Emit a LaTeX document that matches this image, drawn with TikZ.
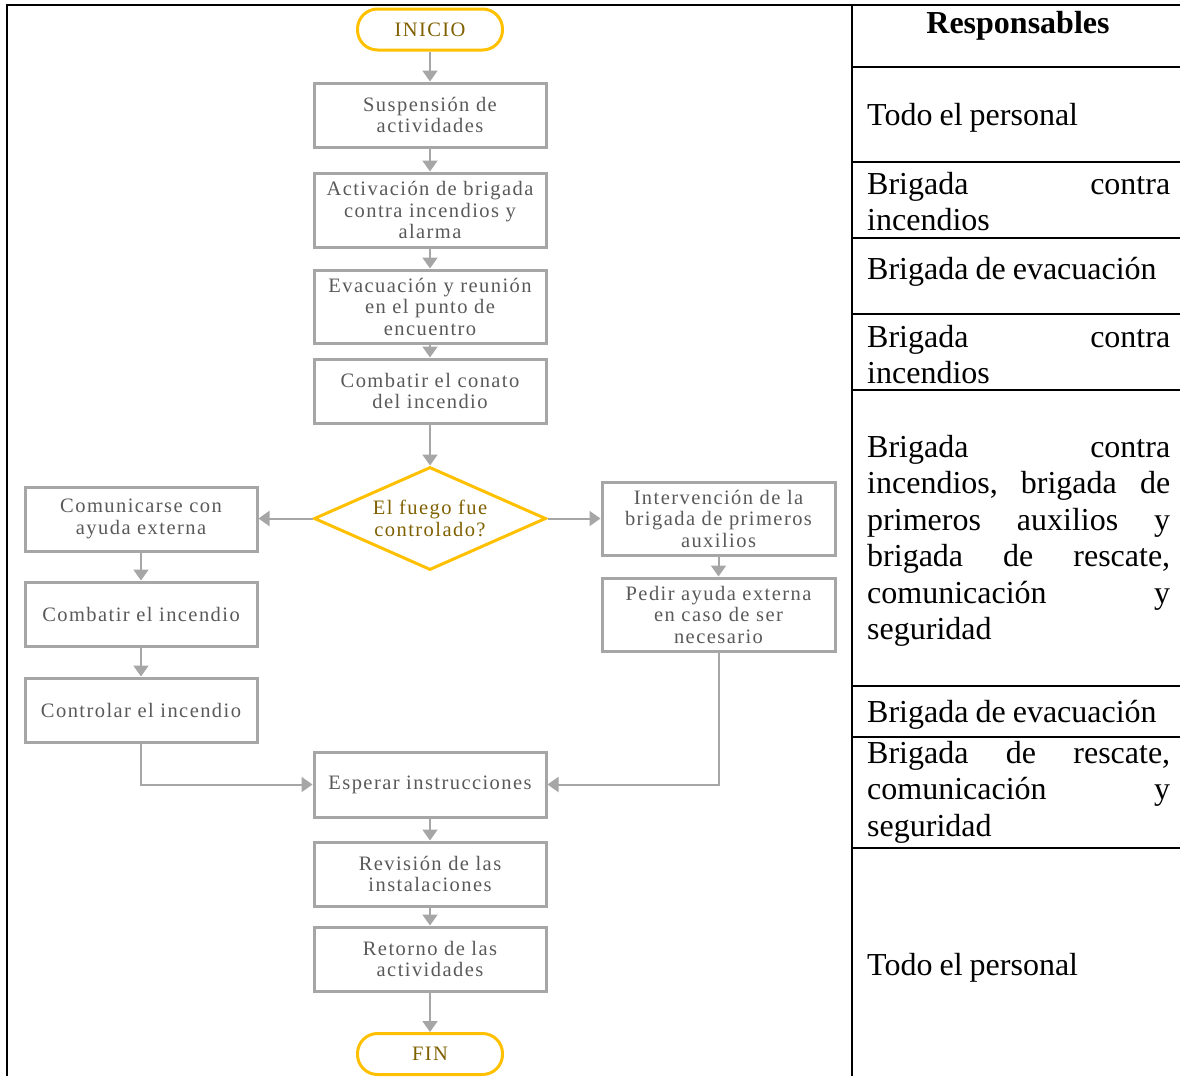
\documentclass[tikz,border=0pt]{standalone}
\usepackage{fontspec}
\setmainfont{Liberation Serif}
\newfontfamily\flowfont[LetterSpace=7]{Liberation Serif}
\usetikzlibrary{arrows.meta,shapes.geometric}
\definecolor{gold}{HTML}{FFC000}
\definecolor{goldtext}{HTML}{7F6000}
\definecolor{boxgray}{HTML}{A6A6A6}
\definecolor{textgray}{HTML}{595959}
\newcommand\flowtext{\flowfont\fontsize{20.5}{21.5}\selectfont}
\newcommand\respfont{\fontsize{32}{36.5}\selectfont}
\newcommand\tight{\spaceskip=0.22em plus 0.3em minus 0.05em\relax}
\newcommand\jline[1]{\makebox[303pt][l]{#1}}
\tikzset{
  procbox/.style={draw=boxgray, line width=3pt, minimum width=232pt, inner sep=0pt, align=center, font=\flowtext, text=textgray},
  termbox/.style={draw=gold, line width=3pt, rounded corners=20pt, minimum width=145pt, minimum height=41pt, inner sep=0pt, font=\flowtext, text=goldtext},
  decbox/.style={diamond, draw=gold, line width=3pt, minimum width=232pt, minimum height=103pt, inner sep=0pt, aspect=2.25, align=center, font=\flowtext, text=goldtext},
  arr/.style={draw=boxgray, line width=2pt, -{Triangle[width=15pt,length=11pt]}},
  tbl/.style={draw=black, line width=2.5pt},
  rowline/.style={draw=black, line width=2pt},
  resp/.style={anchor=base west, inner sep=0pt, text width=303pt, font=\respfont, text=black}
}
\begin{document}
\begin{tikzpicture}[x=1pt,y=-1pt]
\useasboundingbox (0,0) rectangle (1180,1076);
% table frame
\draw[tbl] (5.75,5) -- (1180,5);
\draw[tbl] (7,3.75) -- (7,1076);
\draw[tbl] (852,3.75) -- (852,1076);
\foreach \yy in {67,162,238,314,390,686,737,848}
  \draw[rowline] (852,\yy) -- (1180,\yy);

% responsables column
\node[anchor=base, inner sep=0pt, font=\respfont\bfseries] (hdr) at (1018,33) {Responsables};
\node[resp] (r1) at (867,125) {\tight Todo el personal};
\node[resp] (r2) at (867,194) {\jline{Brigada\hfill contra}\\incendios};
\node[resp] (r3) at (867,279) {\tight Brigada de evacuación};
\node[resp] (r4) at (867,347) {\jline{Brigada\hfill contra}\\incendios};
\node[resp] (r5) at (867,457) {\jline{Brigada\hfill contra}\\\jline{incendios,\hfill brigada\hfill de}\\\jline{primeros\hfill auxilios\hfill y}\\\jline{brigada\hfill de\hfill rescate,}\\\jline{comunicación\hfill y}\\seguridad};
\node[resp] (r6) at (867,722) {\tight Brigada de evacuación};
\node[resp] (r7) at (867,763) {\jline{Brigada\hfill de\hfill rescate,}\\\jline{comunicación\hfill y}\\seguridad};
\node[resp] (r8) at (867,975) {\tight Todo el personal};

% flowchart nodes
\node[termbox] (ini) at (430,29.5) {INICIO};
\node[procbox, minimum height=64pt] (s1) at (430,115) {Suspensión de\\actividades};
\node[procbox, minimum height=74pt] (s2) at (430,210) {Activación de brigada\\contra incendios y\\alarma};
\node[procbox, minimum height=73pt] (s3) at (430,306.5) {Evacuación y reunión\\en el punto de\\encuentro};
\node[procbox, minimum height=64pt] (s4) at (430,391) {Combatir el conato\\del incendio};
\node[decbox] (dec) at (430,518.5) {El fuego fue\\controlado?};
\node[procbox, minimum height=64pt] (com) at (141,519) {Comunicarse con\\ayuda externa};
\node[procbox, minimum height=64pt] (comb) at (141,614) {Combatir el incendio};
\node[procbox, minimum height=64pt] (ctrl) at (141,710) {Controlar el incendio};
\node[procbox, minimum height=73pt, minimum width=233pt] (int) at (718.5,518.5) {Intervención de la\\brigada de primeros\\auxilios};
\node[procbox, minimum height=73pt, minimum width=233pt] (ped) at (718.5,614.5) {Pedir ayuda externa\\en caso de ser\\necesario};
\node[procbox, minimum height=65pt] (esp) at (430,784.5) {Esperar instrucciones};
\node[procbox, minimum height=64pt] (rev) at (430,874) {Revisión de las\\instalaciones};
\node[procbox, minimum height=64pt] (ret) at (430,959) {Retorno de las\\actividades};
\node[termbox] (fin) at (430,1054) {FIN};

% connectors
\draw[arr] (ini) -- (s1);
\draw[arr] (s1) -- (s2);
\draw[arr] (s2) -- (s3);
\draw[arr] (s3) -- (s4);
\draw[arr] (s4) -- (dec);
\draw[arr] (dec.west) -- (dec.west -| com.east);
\draw[arr] (dec.east) -- (dec.east -| int.west);
\draw[arr] (com) -- (comb);
\draw[arr] (comb) -- (ctrl);
\draw[arr] (int) -- (ped);
\draw[arr] (ctrl.south) |- (esp.west);
\draw[arr] (ped.south) |- (esp.east);
\draw[arr] (esp) -- (rev);
\draw[arr] (rev) -- (ret);
\draw[arr] (ret) -- (fin);
\end{tikzpicture}
\end{document}
